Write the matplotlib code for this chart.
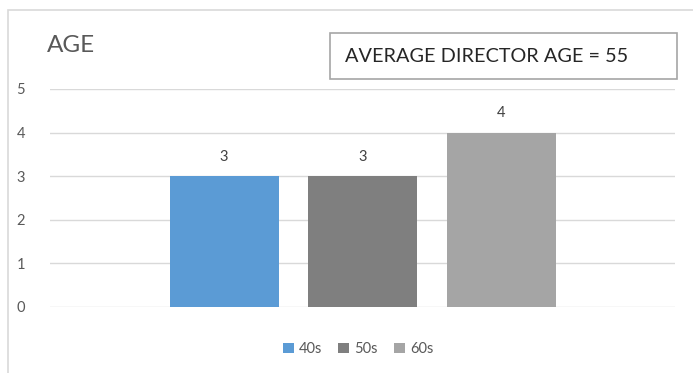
import matplotlib.pyplot as plt
from matplotlib.patches import Rectangle

plt.rcParams['font.family'] = ['Lato', 'DejaVu Sans']

series = ["40s", "50s", "60s"]
counts = [3, 3, 4]
cols = ["#5B9BD5", "#7F7F7F", "#A5A5A5"]
yticks = [0, 1, 2, 3, 4, 5]

W, H = 693, 373
fig = plt.figure(figsize=(W / 100, H / 100), dpi=100)

# outer chart frame (only left and top visible in the crop)
fig.add_artist(Rectangle((8 / W, -0.5), 1.5, 1.5 - 10 / H, transform=fig.transFigure,
                         fill=False, edgecolor="#D9D9D9", linewidth=1.2))

ax = fig.add_axes([50 / W, 66 / H, 625 / W, 218 / H])

offset = 0.2216
width = 0.1744
for i, (name, val, c) in enumerate(zip(series, counts, cols)):
    b = ax.bar((i - 1) * offset, val, width=width, color=c, label=name, zorder=2)
    ax.bar_label(b, padding=9, fontsize=10.5, color="#404040")

ax.set_xlim(-0.5, 0.5)
ax.set_ylim(0, 5)
ax.set_yticks(yticks)
ax.set_xticks([])
ax.grid(axis="y", color="#D9D9D9", linewidth=1, zorder=0)
for s in ax.spines.values():
    s.set_visible(False)
ax.tick_params(axis="y", length=0, pad=18, labelsize=10.5, labelcolor="#595959")

fig.text(47 / W, 1 - 45 / H, "AGE", fontsize=17.5, color="#595959", va="center", ha="left")

fig.text(345 / W, 1 - 57 / H, "AVERAGE DIRECTOR AGE = 55", fontsize=14.3, color="#262626",
         va="center", ha="left")
fig.add_artist(Rectangle((330 / W, 1 - 79 / H), 347 / W, 46 / H, transform=fig.transFigure,
                         fill=False, edgecolor="#A6A6A6", linewidth=1.2))

leg = fig.legend(loc="center", bbox_to_anchor=(358 / W, 1 - 349 / H), ncol=3, frameon=False,
                 fontsize=10.5, handlelength=0.75, handleheight=0.75, handletextpad=0.35,
                 columnspacing=1.1)
for t in leg.get_texts():
    t.set_color("#595959")

fig.savefig("out.png", dpi=100)
